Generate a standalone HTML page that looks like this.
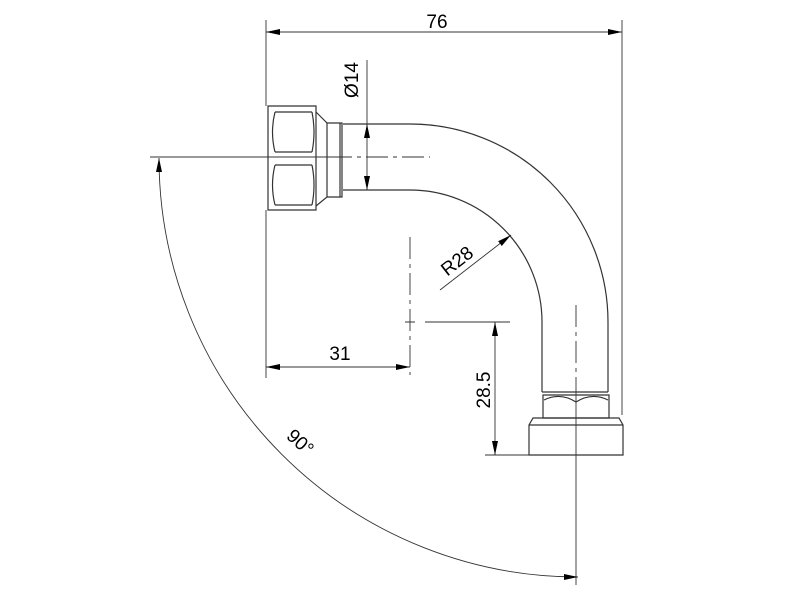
<!DOCTYPE html>
<html><head><style>html,body{margin:0;padding:0;background:#fff}svg{display:block}</style></head>
<body>
<svg width="800" height="600" viewBox="0 0 800 600" xmlns="http://www.w3.org/2000/svg" font-family="Liberation Sans, sans-serif">
<defs>
<marker id="a" viewBox="0 0 14 6" refX="14" refY="3" markerWidth="14" markerHeight="6" markerUnits="userSpaceOnUse" orient="auto-start-reverse"><path d="M0,0 L14,3 L0,6 Z" fill="#000"/></marker>
</defs>
<g fill="none" stroke="#333" stroke-width="1.2">
<path d="M343,124 L410,124 A198,198 0 0 1 608,322 L608,392"/>
<path d="M343,190 L410,190 A132,132 0 0 1 542,322 L542,392"/>
<path d="M542,392 L608,392"/>
<path d="M543,395 L609,395 L609,418 L543,418 Z"/>
<path d="M544,400 Q560,392 576,402 Q592,392 608,400"/>
<path d="M533,418 L619,418 L623,425 L623,455 L529,455 L529,425 Z"/>
<path d="M529,425 L623,425"/>
<path d="M268,106 L316,106 L316,210 L268,210 Z"/>
<path d="M275,112 L312,112 M275,152 L312,152 M275,165 L312,165 M275,205 L312,205"/>
<path d="M275,112 Q270,132 275,152 M312,112 Q316,132 312,152 M275,165 Q270,185 275,205 M312,165 Q316,185 312,205"/>
<path d="M316,112 L327,123 L327,197 L316,206"/>
<path d="M327,123 L342,123 L342,197 L327,197"/>
<path d="M340,123 L340,197"/>
</g>
<g fill="none" stroke="#333" stroke-width="0.9">
<path d="M150,157 L330,157"/>
<path d="M330,157 L430,157" stroke-dasharray="22,5,4,5"/>
<path d="M576,305 L576,392" stroke-dasharray="22,5,4,5"/>
<path d="M576,392 L576,585"/>
<path d="M410,237 L410,375" stroke-dasharray="22,5,4,5"/>
<path d="M405,322 L415,322 M425,322 L510,322"/>
<path d="M266,20 L266,106 M266,210 L266,378"/>
<path d="M622,20 L622,415"/>
<path d="M367,60 L367,124"/>
<path d="M485,455 L530,455"/>
<path d="M266,32 L622,32" marker-start="url(#a)" marker-end="url(#a)"/>
<path d="M367,124 L367,190" marker-start="url(#a)" marker-end="url(#a)"/>
<path d="M266,367 L410,367" marker-start="url(#a)" marker-end="url(#a)"/>
<path d="M495,322 L495,455" marker-start="url(#a)" marker-end="url(#a)"/>
<path d="M440,290 L511,235" marker-end="url(#a)"/>
<path d="M159,158 A419,419 0 0 0 578,577" marker-start="url(#a)" marker-end="url(#a)"/>
</g>
<g fill="#000" font-size="19">
<text x="437" y="28" text-anchor="middle">76</text>
<text x="340" y="360" text-anchor="middle">31</text>
<text transform="translate(358,80) rotate(-90)" text-anchor="middle">Ø14</text>
<text transform="translate(490,390) rotate(-90)" text-anchor="middle">28.5</text>
<text transform="translate(461,266) rotate(-38)" text-anchor="middle">R28</text>
<text transform="translate(296,447) rotate(42)" text-anchor="middle">90°</text>
</g>
</svg>
</body></html>
